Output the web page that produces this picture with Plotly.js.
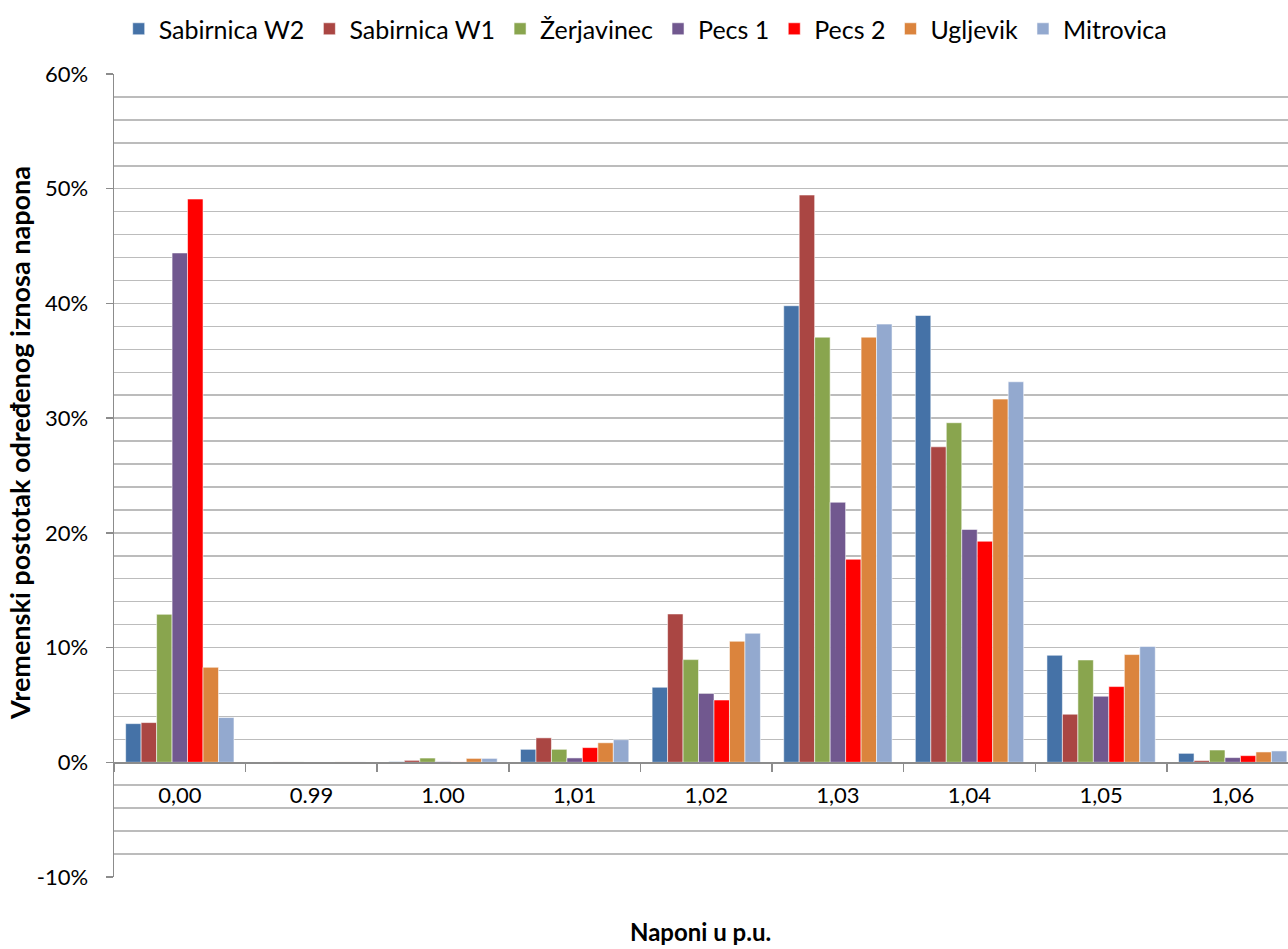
<!DOCTYPE html>
<html>
<head>
<meta charset="utf-8">
<script src="https://cdn.plot.ly/plotly-3.0.1.min.js"></script>
<style>html,body{margin:0;padding:0;background:#fff;}#chart{width:1288px;height:949px;}</style>
</head>
<body>
<div id="chart"></div>
<script>
// Categories (voltage in p.u.)
const categories = ['0,00', '0.99', '1.00', '1,01', '1,02', '1,03', '1,04', '1,05', '1,06'];

// Series values (% of time)
const sabirnicaW2 = [3.37, 0.00, 0.05, 1.13, 6.54, 39.80, 38.95, 9.33, 0.78];
const sabirnicaW1 = [3.46, 0.03, 0.17, 2.13, 12.93, 49.45, 27.50, 4.19, 0.15];
const zerjavinec  = [12.90, 0.03, 0.37, 1.13, 8.95, 37.06, 29.60, 8.92, 1.07];
const pecs1       = [44.40, 0.00, 0.05, 0.38, 6.00, 22.67, 20.30, 5.76, 0.41];
const pecs2       = [49.10, 0.00, 0.03, 1.28, 5.43, 17.70, 19.27, 6.60, 0.58];
const ugljevik    = [8.28, 0.03, 0.34, 1.70, 10.55, 37.06, 31.66, 9.39, 0.90];
const mitrovica   = [3.90, 0.03, 0.34, 1.97, 11.25, 38.20, 33.17, 10.10, 0.99];

// Y-axis tick values and labels
const yTickValues = [-10, 0, 10, 20, 30, 40, 50, 60];
const yTickLabels = ['-10%', '0%', '10%', '20%', '30%', '40%', '50%', '60%'];

const seriesNames = ['Sabirnica W2', 'Sabirnica W1', 'Žerjavinec', 'Pecs 1', 'Pecs 2', 'Ugljevik', 'Mitrovica'];
const seriesValues = [sabirnicaW2, sabirnicaW1, zerjavinec, pecs1, pecs2, ugljevik, mitrovica];
const seriesColors = ['#4572A7', '#AA4643', '#89A54E', '#71588F', '#FF0000', '#DB843D', '#93A9CF'];

const FONT = 'Lato, "Open Sans", sans-serif';

const traces = seriesNames.map((name, i) => ({
  type: 'bar',
  name: name,
  x: categories,
  y: seriesValues[i],
  marker: { color: seriesColors[i], line: { color: 'rgba(255,255,255,0.55)', width: 1 } },
  hoverinfo: 'x+y+name'
}));

const layout = {
  width: 1288,
  height: 949,
  margin: { l: 114, r: 0, t: 74, b: 72 },
  paper_bgcolor: '#ffffff',
  plot_bgcolor: '#ffffff',
  font: { family: FONT, size: 22, color: '#000' },
  barmode: 'group',
  bargap: 0.177,
  bargroupgap: 0,
  showlegend: true,
  legend: {
    orientation: 'h',
    x: 0.004, xanchor: 'left',
    y: 1.056, yanchor: 'middle',
    font: { family: FONT, size: 25, color: '#000' },
    itemwidth: 30,
    traceorder: 'normal'
  },
  xaxis: {
    type: 'category',
    range: [-0.5, 8.42],
    anchor: 'free',
    position: 0.1432,
    showline: true,
    linecolor: '#8c8c8c',
    linewidth: 1.5,
    ticks: 'outside',
    tickson: 'boundaries',
    ticklen: 8,
    tickcolor: '#8c8c8c',
    tickwidth: 1.5,
    ticklabelstandoff: 13,
    showgrid: false,
    zeroline: false,
    tickfont: { family: FONT, size: 22, color: '#000' },
    fixedrange: true
  },
  yaxis: {
    range: [-10, 60],
    tickmode: 'array',
    tickvals: yTickValues,
    ticktext: yTickLabels,
    showline: true,
    linecolor: '#8c8c8c',
    linewidth: 1.5,
    ticks: 'outside',
    ticklen: 7,
    tickcolor: '#8c8c8c',
    tickwidth: 1.5,
    ticklabelstandoff: 13,
    showgrid: true,
    gridcolor: '#bcbcbc',
    gridwidth: 1.5,
    zeroline: false,
    minor: { dtick: 2, showgrid: true, gridcolor: '#bcbcbc', gridwidth: 1.5 },
    tickfont: { family: FONT, size: 22, color: '#000' },
    fixedrange: true
  },
  annotations: [
    {
      text: '<b>Vremenski postotak određenog iznosa napona</b>',
      xref: 'paper', yref: 'paper',
      x: (20 - 114) / 1174, y: (877 - 443) / 803,
      xanchor: 'center', yanchor: 'middle',
      textangle: -90,
      showarrow: false,
      font: { family: FONT, size: 27, color: '#000' }
    },
    {
      text: '<b>Naponi u p.u.</b>',
      xref: 'paper', yref: 'paper',
      x: (700 - 114) / 1174, y: (877 - 931) / 803,
      xanchor: 'center', yanchor: 'middle',
      showarrow: false,
      font: { family: FONT, size: 24, color: '#000' }
    }
  ]
};

Plotly.newPlot('chart', traces, layout, { displayModeBar: false, staticPlot: true });
</script>
</body>
</html>
